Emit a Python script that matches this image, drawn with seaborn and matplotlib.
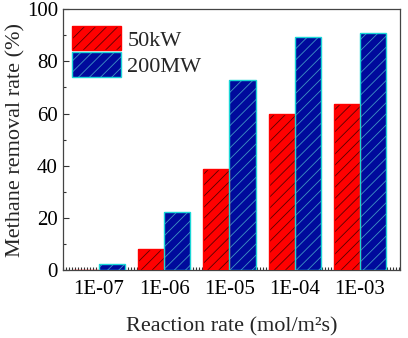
import matplotlib
matplotlib.use("Agg")
import matplotlib.pyplot as plt
from matplotlib.patches import Patch, Rectangle
from matplotlib.legend_handler import HandlerTuple
from matplotlib.ticker import MultipleLocator
import numpy as np
import pandas as pd
import seaborn as sns

RATES = ["1E-07", "1E-06", "1E-05", "1E-04", "1E-03"]
SERIES = ["50kW", "200MW"]
REMOVAL_50KW = [0.0, 8.2, 38.6, 60.0, 63.5]
REMOVAL_200MW = [2.5, 22.3, 72.8, 89.3, 90.8]

FACE = {"50kW": "#ff0000", "200MW": "#000a9c"}
HATCH_COL = {"50kW": "#5a0000", "200MW": "#3f93c4"}
EDGE = {"50kW": "#ff0000", "200MW": "#19d6d6"}


def main() -> None:
    sns.set_style("ticks")
    plt.rcParams["font.family"] = ["Liberation Serif", "DejaVu Serif"]
    plt.rcParams["hatch.linewidth"] = 0.6

    df = pd.DataFrame({
        "rate": RATES * 2,
        "series": [SERIES[0]] * len(RATES) + [SERIES[1]] * len(RATES),
        "removal": REMOVAL_50KW + REMOVAL_200MW,
    })

    fig = plt.figure(figsize=(4.08, 3.38), dpi=100)
    ax = fig.add_axes([0.154, 0.201, 0.826, 0.772])

    sns.barplot(data=df, x="rate", y="removal", hue="series", order=RATES,
                hue_order=SERIES, palette=FACE, width=0.8, saturation=1,
                ax=ax, legend=False, zorder=3)

    # hatch colour follows edgecolor, so draw outlines separately
    bars = [p for p in ax.patches if isinstance(p, Rectangle)]
    n = len(RATES)
    for i, bar in enumerate(bars[:2 * n]):
        s = SERIES[i // n]
        bar.set_hatch("///")
        bar.set_edgecolor(HATCH_COL[s])
        bar.set_linewidth(0)
        ax.add_patch(Rectangle(bar.get_xy(), bar.get_width(), bar.get_height(),
                               fill=False, edgecolor=EDGE[s], linewidth=1.0, zorder=4))

    ax.set_xlim(-0.55, 4.61)
    ax.set_ylim(0, 100)
    ax.yaxis.set_major_locator(MultipleLocator(20))
    ax.yaxis.set_minor_locator(MultipleLocator(10))
    ax.xaxis.set_minor_locator(MultipleLocator(0.045))
    ax.tick_params(axis="both", which="both", direction="in", colors="#333333",
                   labelcolor="black", labelsize=15, width=0.8)
    ax.tick_params(axis="y", which="major", length=4)
    ax.tick_params(axis="y", which="minor", length=2.5)
    ax.tick_params(axis="x", which="major", length=0, pad=7)
    ax.tick_params(axis="x", which="minor", length=2)
    for sp in ax.spines.values():
        sp.set_color("#444444")
        sp.set_linewidth(0.9)

    ax.set_xlabel("Reaction rate (mol/m²s)", fontsize=16, labelpad=13)
    ax.set_ylabel("Methane removal rate (%)", fontsize=16, labelpad=1)

    handles = []
    for s in SERIES:
        handles.append((Patch(facecolor=FACE[s], edgecolor=HATCH_COL[s], hatch="///", linewidth=0),
                        Patch(fill=False, edgecolor=EDGE[s], linewidth=1.0)))
    ax.legend(handles, SERIES, handler_map={tuple: HandlerTuple(ndivide=1, pad=0)},
              loc="upper left", bbox_to_anchor=(0.0, 0.97), frameon=False,
              fontsize=16, handlelength=2.2, handleheight=1.32, labelspacing=0.08,
              handletextpad=0.3, borderaxespad=0)

    fig.savefig("out.png", dpi=100)
    plt.close(fig)


if __name__ == "__main__":
    main()
